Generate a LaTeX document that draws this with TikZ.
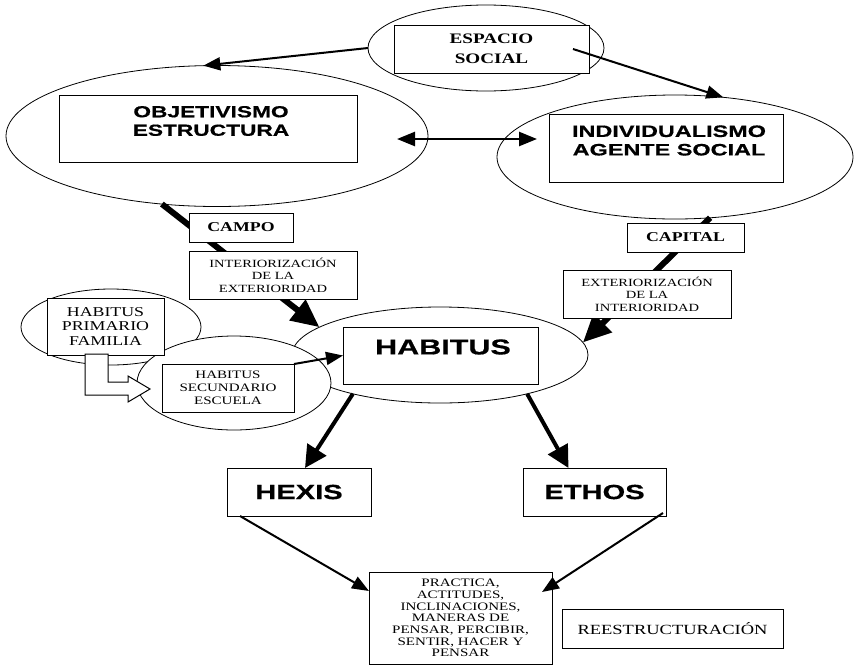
\documentclass[tikz,border=0pt]{standalone}
\usepackage{fontspec}
\setmainfont{Liberation Serif}[FakeStretch=1.32]
\newfontfamily\anchasans{Liberation Sans}[FakeStretch=1.42,BoldFeatures={FakeBold=0.6}]
\usetikzlibrary{arrows.meta,shapes.geometric}

\begin{document}
\begin{tikzpicture}[x=1pt,y=-1pt,
    oval/.style={draw,ellipse,fill=white,line width=0.8pt,inner sep=0pt,outer sep=0pt},
    caja/.style={draw,rectangle,fill=white,line width=1pt,inner sep=0pt,outer sep=0pt,align=center},
    titulo/.style={font=\anchasans\bfseries\fontsize{#1}{18.5}\selectfont,align=center},
    flecha/.style={line width=2pt,-{Triangle[length=17pt,width=13pt]}},
    doble/.style={line width=2.5pt,{Triangle[length=18pt,width=14pt]}-{Triangle[length=18pt,width=14pt]}},
    media/.style={line width=4pt,-{Triangle[length=22pt,width=22pt]}},
    gruesa/.style={line width=6pt,-{Triangle[length=28pt,width=25pt]}}]
  \path[use as bounding box,fill=white] (0,0) rectangle (854,670);

  % elipses
  \node[oval,minimum width=422pt,minimum height=141pt] (eobj) at (217,136) {};
  \node[oval,minimum width=356pt,minimum height=124pt] (eind) at (675,157) {};
  \node[oval,minimum width=236pt,minimum height=86pt] (eesp) at (486,48) {};
  \node[oval,minimum width=296pt,minimum height=96pt] (ehab) at (440,355) {};
  \node[oval,minimum width=180pt,minimum height=76pt] (eprim) at (111,327) {};
  \node[oval,minimum width=194pt,minimum height=94pt] (esec) at (234,383) {};

  % cajas dentro de las elipses
  \node[caja,minimum width=195pt,minimum height=48pt,
        font=\bfseries\fontsize{14.5}{20}\selectfont] (besp) at (491.5,49) {ESPACIO\\SOCIAL};
  \node[caja,minimum width=298pt,minimum height=67pt] (bobj) at (208,128.5) {};
  \node[titulo=16] (tobj) at (211,121) {OBJETIVISMO\\ESTRUCTURA};
  \node[caja,minimum width=234pt,minimum height=68pt] (bind) at (666,148) {};
  \node[titulo=16.5] (tind) at (669,140.5) {INDIVIDUALISMO\\AGENTE SOCIAL};
  \node[caja,minimum width=195pt,minimum height=57pt] (bhab) at (440.5,355.5) {};
  \node[titulo=21.5] (thab) at (443,347) {HABITUS};
  \node[caja,minimum width=117pt,minimum height=57pt,
        font=\fontsize{13.5}{14.5}\selectfont] (bprim) at (105.5,326.5) {HABITUS\\PRIMARIO\\FAMILIA};
  \node[caja,minimum width=132pt,minimum height=48pt,
        font=\fontsize{11.4}{13}\selectfont] (bsec) at (228,388) {HABITUS\\SECUNDARIO\\ESCUELA};

  % campo y capital
  \draw[gruesa] (eobj.231) -- (ehab.167);
  \draw[gruesa] (eind.300) -- (ehab.5);
  \node[caja,minimum width=104pt,minimum height=29pt,
        font=\bfseries\fontsize{13.5}{15}\selectfont] (campo) at (241,227.5) {CAMPO};
  \node[caja,minimum width=168pt,minimum height=48pt,
        font=\fontsize{11}{12.5}\selectfont] (inter) at (273,275) {INTERIORIZACIÓN\\DE LA\\EXTERIORIDAD};
  \node[caja,minimum width=117pt,minimum height=29pt,
        font=\bfseries\fontsize{13.5}{15}\selectfont] (capital) at (685.5,237.5) {CAPITAL};
  \node[caja,minimum width=168pt,minimum height=48pt,
        font=\fontsize{11}{12.5}\selectfont] (exter) at (647,294) {EXTERIORIZACIÓN\\DE LA\\INTERIORIDAD};

  % hexis, ethos y practicas
  \node[caja,minimum width=144pt,minimum height=48pt,titulo=20.5] (hexis) at (299,492) {HEXIS};
  \node[caja,minimum width=143pt,minimum height=48pt,titulo=20.5] (ethos) at (594.5,492) {ETHOS};
  \node[caja,minimum width=183pt,minimum height=92pt,
        font=\fontsize{11.4}{11.7}\selectfont] (practica) at (460.5,618) {PRACTICA,\\ACTITUDES,\\INCLINACIONES,\\MANERAS DE\\PENSAR, PERCIBIR,\\SENTIR, HACER Y\\PENSAR};
  \node[caja,minimum width=221pt,minimum height=39pt,
        font=\fontsize{14}{15}\selectfont] (reest) at (672.5,628.5) {REESTRUCTURACIÓN};

  % flechas
  \draw[flecha] (eesp.west) -- (eobj.101);
  \draw[flecha] ([xshift=-16pt]besp.east) -- (eind.51);
  \draw[doble] ([shift={(-31pt,-3pt)}]eobj.east) -- ([shift={(40pt,18pt)}]eind.west);
  \draw[flecha] (bsec.north east) -- (bhab.west);
  \draw[media] (ehab.204) -- ([xshift=6pt]hexis.north);
  \draw[media] (ehab.336) -- ([xshift=-26pt]ethos.north);
  \draw[flecha] ([xshift=13pt]hexis.south west) -- ([yshift=27pt]practica.west);
  \draw[flecha] ([shift={(-3pt,3pt)}]ethos.south east) -- ([shift={(-10pt,26pt)}]practica.east);

  % flecha de bloque
  \draw[fill=white,line width=1pt] (85,354) -- (108,354) -- (108,382) -- (128,382) -- (128,376)
    -- (150,389) -- (128,402) -- (128,395) -- (85,395) -- cycle;
\end{tikzpicture}
\end{document}
